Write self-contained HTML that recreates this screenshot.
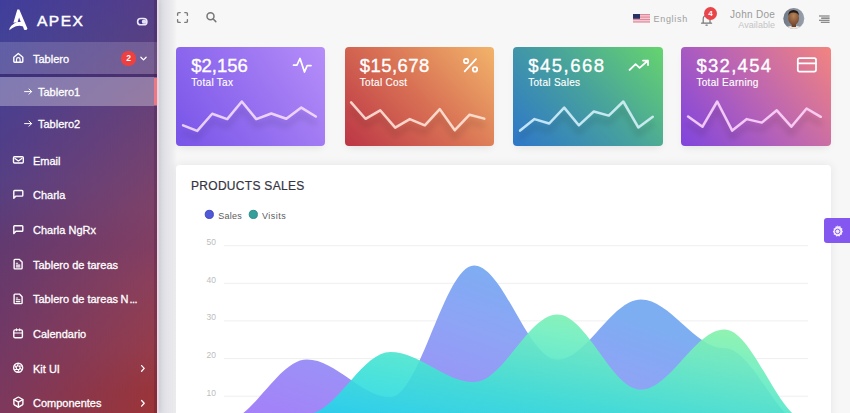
<!DOCTYPE html>
<html><head><meta charset="utf-8">
<style>
*{box-sizing:border-box;margin:0;padding:0}
html,body{width:850px;height:413px;overflow:hidden}
body{font-family:"Liberation Sans",sans-serif;background:#f7f7f7;position:relative}
.sb{position:absolute;left:0;top:0;width:157px;height:413px;overflow:hidden;
 background:linear-gradient(180deg,rgb(64,62,156) 0px,rgb(66,66,152) 35px,rgb(80,62,138) 140px,rgb(87,64,132) 180px,rgb(98,58,112) 245px,rgb(116,57,100) 350px,rgb(122,57,96) 385px,rgb(126,57,92) 413px);
 box-shadow:2px 0 6px rgba(0,0,0,.12)}
.sb:before{content:"";position:absolute;left:0;top:0;width:157px;height:413px;
 background:linear-gradient(180deg,rgb(86,62,136) 0px,rgb(88,64,130) 35px,rgb(112,66,115) 140px,rgb(126,66,104) 207px,rgb(130,62,98) 245px,rgb(140,64,90) 282px,rgb(150,60,74) 350px,rgb(154,53,58) 391px,rgb(156,52,55) 413px);
 -webkit-mask-image:linear-gradient(to right,transparent,#000);mask-image:linear-gradient(to right,transparent,#000)}
.sb .row{position:absolute;left:0;width:157px;color:#fff;font-size:11px}
.sb .txt{position:absolute;left:33px;white-space:nowrap;-webkit-text-stroke:.3px #fff;letter-spacing:0}
.sb svg{position:absolute}
.main{position:absolute;left:157px;top:0;right:0;bottom:0}
.card{position:absolute;top:46.8px;height:98.8px;border-radius:4px;color:#fff;overflow:hidden;
 box-shadow:0 4px 8px -3px rgba(0,0,0,.10)}
.card .v{position:absolute;left:15px;top:10px;font-size:18.5px;line-height:1;-webkit-text-stroke:.35px #fff}
.card .l{position:absolute;left:15px;top:31px;font-size:10px;line-height:1;letter-spacing:.3px;-webkit-text-stroke:.15px #fff}
.abs{position:absolute}
</style></head>
<body>
<div class="sb">
  <!-- logo -->
  <svg style="left:0;top:0" width="40" height="40" viewBox="0 0 40 40">
    <path d="M17.3 9.4L19.3 9.4L27.4 28.6Q27.3 30.1 25.8 30L24.1 29.7L23 26.5Q19.6 25.2 15.9 26.3Q12.3 27.6 9.2 30.3Q9 28.2 11.3 25.7Q14.3 22.6 18.3 22.1L20.7 22L19.1 17.4L17.6 22.2L13.4 22.8Z" fill="#fff"/>
  </svg>
  <div class="abs" style="left:37px;top:12px;color:#fff;font-size:15.5px;letter-spacing:1.5px;-webkit-text-stroke:.45px #fff">APEX</div>
  <svg style="left:134px;top:15px" width="16" height="13" viewBox="134 15 16 13">
    <rect x="137.6" y="18.5" width="9.3" height="6.3" rx="3.15" fill="#3f3488" stroke="#ece8fa" stroke-width="1.6"/>
    <circle cx="144" cy="21.65" r="2.2" fill="#e4def6"/>
  </svg>
  <!-- Tablero row -->
  <div class="row" style="top:42px;height:32px;background:rgba(255,255,255,.16)"></div>
  <div class="row" style="top:74px;height:3px;background:rgba(40,20,80,.35)"></div>
  <div class="row" style="top:77px;height:29px;background:rgba(255,255,255,.31)"></div>

  <svg style="left:0;top:0" width="157" height="413" viewBox="0 0 157 413" fill="none" stroke="#fff" stroke-width="1.4" stroke-linecap="round" stroke-linejoin="round">
   <path d="M13.8 57.2L18.3 53.5 22.8 57.2V61.6Q22.8 62.3 22.1 62.3H14.5Q13.8 62.3 13.8 61.6Z"/>
   <path stroke-width="1.2" d="M16.5 62.3V59.4Q16.5 57.7 18.3 57.7 20.1 57.7 20.1 59.4V62.3"/>
   <path stroke-width="1.3" d="M140.9 57.3L143.5 59.9 146.1 57.3"/>
   <path stroke-width="1" d="M24.6 91.6H31.6M29 89L31.6 91.6 29 94.2"/>
   <path stroke-width="1" d="M24.6 123.6H31.6M29 121L31.6 123.6 29 126.2"/>
   <rect x="13.5" y="156.7" width="9.8" height="6.3" rx="1"/>
   <path stroke-width="1.3" d="M15 158.4L18.4 160.9 21.8 158.4"/>
   <path d="M13.8 198.3V191.3Q13.8 190.5 14.6 190.5H22Q22.8 190.5 22.8 191.3V195.3Q22.8 196.1 22 196.1H16Z"/>
   <path d="M13.8 233.5V226.5Q13.8 225.7 14.6 225.7H22Q22.8 225.7 22.8 226.5V230.5Q22.8 231.3 22 231.3H16Z"/>
   <path d="M14.1 260.2Q14.1 259.4 14.9 259.4H19.4L22.1 262.1V268.1Q22.1 268.9 21.3 268.9H14.9Q14.1 268.9 14.1 268.1Z"/><path stroke-width="1.1" d="M16.3 263.3H17.6M16.3 265.1H19.9M16.3 266.9H19.9"/>
   <path d="M14.1 294.9Q14.1 294.1 14.9 294.1H19.4L22.1 296.8V302.8Q22.1 303.6 21.3 303.6H14.9Q14.1 303.6 14.1 302.8Z"/><path stroke-width="1.1" d="M16.3 298.0H17.6M16.3 299.8H19.9M16.3 301.6H19.9"/>
   <rect x="13.8" y="329.9" width="8.6" height="7.8" rx="1.3"/>
   <path stroke-width="1.2" d="M13.8 333H22.4M16.5 328.9V330.6M19.7 328.9V330.6"/>
   <circle cx="18.15" cy="367.7" r="4.5"/>
   <g stroke-width="1.1"><clipPath id="apc"><circle cx="18.15" cy="367.7" r="4.5"/></clipPath><path clip-path="url(#apc)" d="M19.17 365.94L21.69 370.31M17.13 365.94L22.18 365.94M16.12 367.70L18.64 363.33M17.13 369.46L14.61 365.09M19.17 369.46L14.12 369.46M20.18 367.70L17.66 372.07"/></g>
   <g transform="translate(12.4 396.1) scale(0.5)" stroke-width="2.8"><path d="M21 16V8a2 2 0 0 0-1-1.73l-7-4a2 2 0 0 0-2 0l-7 4A2 2 0 0 0 3 8v8a2 2 0 0 0 1 1.73l7 4a2 2 0 0 0 2 0l7-4A2 2 0 0 0 21 16z"/><path d="M3.27 6.96L12 12.01 20.73 6.96M12 22.08V12"/></g>
   <path stroke-width="1.3" d="M141.6 365.6L144.2 368.4 141.6 371.2"/>
   <path stroke-width="1.3" d="M141.6 400.5L144.2 403.3 141.6 406.1"/>
  </svg>
  <div class="row" style="top:53px"><span class="txt">Tablero</span></div>
  <div class="abs" style="left:121.4px;top:51.4px;width:14.4px;height:14.4px;border-radius:50%;background:#ee4040;color:#fff;font-size:8.5px;font-weight:bold;text-align:center;line-height:14.4px">2</div>
  <div class="row" style="top:86px"><span class="txt" style="left:38px">Tablero1</span></div>
  <div class="row" style="top:118px"><span class="txt" style="left:38px">Tablero2</span></div>
  <div class="row" style="top:155px"><span class="txt">Email</span></div>
  <div class="row" style="top:189px"><span class="txt">Charla</span></div>
  <div class="row" style="top:224px"><span class="txt">Charla NgRx</span></div>
  <div class="row" style="top:259px"><span class="txt">Tablero de tareas</span></div>
  <div class="row" style="top:293px"><span class="txt">Tablero de tareas<span style="margin-left:2.6px">N</span><span style="letter-spacing:-.6px;margin-left:1px">...</span></span></div>
  <div class="row" style="top:328px"><span class="txt">Calendario</span></div>
  <div class="row" style="top:363px"><span class="txt">Kit UI</span></div>
  <div class="row" style="top:397px"><span class="txt">Componentes</span></div>
</div>

<div class="abs" style="left:154px;top:0;width:3px;height:413px;background:rgba(40,10,40,.18)"></div>
<div class="abs" style="left:153.6px;top:77.6px;width:4.2px;height:27.6px;background:#eb7882"></div>
<div class="abs" style="left:157px;top:0;width:20px;height:413px;background:linear-gradient(to right,rgba(235,215,232,.9) 0,rgba(235,215,232,.9) 1.2px,rgba(60,60,110,.15) 2.6px,rgba(60,60,110,.11) 9px,rgba(60,60,110,.05) 16px,rgba(60,60,110,0) 20px)"></div>
<!-- navbar -->
<svg class="abs" style="left:176px;top:11px" width="13" height="13" viewBox="0 0 13 13" fill="none" stroke="#7a7a7a" stroke-width="1.4" stroke-linecap="round" stroke-linejoin="round"><path d="M4.2 1.6H2.8Q1.6 1.6 1.6 2.8V4.2M8.8 1.6H10.2Q11.4 1.6 11.4 2.8V4.2M11.4 8.8V10.2Q11.4 11.4 10.2 11.4H8.8M4.2 11.4H2.8Q1.6 11.4 1.6 10.2V8.8"/></svg>
<svg class="abs" style="left:204px;top:10px" width="14" height="14" viewBox="0 0 14 14" fill="none" stroke="#777" stroke-width="1.5" stroke-linecap="round"><circle cx="6.5" cy="6.3" r="3.5"/><path d="M9.2 9L11.8 11.6"/></svg>

<svg class="abs" style="left:633px;top:14px" width="17" height="9" viewBox="0 0 17 9">
 <rect width="17" height="8.6" fill="#e3889a"/>
 <rect y="1.25" width="17" height="1.2" fill="#f4d4da"/><rect y="3.7" width="17" height="1.2" fill="#f4d4da"/><rect y="6.15" width="17" height="1.2" fill="#f4d4da"/>
 <rect width="7" height="4.8" fill="#263364"/>
</svg>
<div class="abs" style="left:653.5px;top:13.8px;font-size:9px;letter-spacing:.7px;color:#a0a0a0">English</div>

<svg class="abs" style="left:700px;top:12px" width="13" height="15" viewBox="0 0 13 15" fill="none" stroke="#777" stroke-width="1.2" stroke-linecap="round" stroke-linejoin="round"><path d="M3.2 10.8V7Q3.2 3.5 6.6 3.5T10 7V10.8M1.6 11.2H11.6M6 13.2H7.2"/></svg>
<div class="abs" style="left:704px;top:7px;width:13px;height:13px;border-radius:50%;background:#e8444a;color:#fff;font-size:8px;font-weight:bold;text-align:center;line-height:13px">4</div>

<div class="abs" style="left:730px;top:8.6px;font-size:10px;letter-spacing:.3px;color:#9a9a9a">John Doe</div>
<div class="abs" style="left:738.3px;top:19.5px;font-size:9px;letter-spacing:.05px;color:#c4c4c4">Available</div>
<svg class="abs" style="left:783px;top:8px" width="22" height="22" viewBox="0 0 22 22">
 <defs><clipPath id="av"><circle cx="10.8" cy="10.5" r="10.5"/></clipPath>
 <linearGradient id="avbg" x1="0" x2="1" y1="0" y2="0"><stop offset="0" stop-color="#6e7886"/><stop offset="1" stop-color="#9aa2ad"/></linearGradient>
 <radialGradient id="face" cx="0.5" cy="0.35" r="0.6"><stop offset="0" stop-color="#b88458"/><stop offset="1" stop-color="#7a4c32"/></radialGradient></defs>
 <g clip-path="url(#av)">
 <rect width="22" height="22" fill="url(#avbg)"/>
 <ellipse cx="10.8" cy="23" rx="9.5" ry="5.5" fill="#ebe4dc"/>
 <rect x="8.6" y="15" width="4.4" height="4" fill="#6e4430"/>
 <ellipse cx="10.6" cy="10" rx="5.4" ry="7.2" fill="url(#face)"/>
 <path d="M5.2 8Q5.2 2 10.6 2T16 8Q15 4.6 10.6 4.4T5.2 8Z" fill="#261a14"/>
 </g>
</svg>
<svg class="abs" style="left:818px;top:14px" width="13" height="10" viewBox="0 0 13 10"><path d="M1 2H11.6M3.2 4.1H11.6M1 6.2H11.6M2.8 8.3H11.6" stroke="#6a6a6a" stroke-width="1.1"/></svg>

<!-- stat cards -->
<div class="card" style="left:176.3px;width:149.1px;background:linear-gradient(56deg,rgb(120,84,232),rgb(150,112,240) 50%,rgb(182,142,249))">
 <div class="v">$2,156</div><div class="l">Total Tax</div>
</div>
<div class="card" style="left:344.8px;width:149.5px;background:linear-gradient(47deg,rgb(188,54,70),rgb(216,112,84) 50%,rgb(242,180,106))">
 <div class="v" style="letter-spacing:.45px">$15,678</div><div class="l">Total Cost</div>
</div>
<div class="card" style="left:513.2px;width:149.4px;background:linear-gradient(47deg,rgb(46,118,202),rgb(70,160,158) 50%,rgb(102,212,110))">
 <div class="v" style="letter-spacing:1.5px">$45,668</div><div class="l">Total Sales</div>
</div>
<div class="card" style="left:681.4px;width:149.3px;background:linear-gradient(52deg,rgb(128,68,222),rgb(186,100,180) 50%,rgb(242,132,128))">
 <div class="v" style="letter-spacing:1.3px">$32,454</div><div class="l">Total Earning</div>
</div>

<!-- products sales card -->
<div class="abs" style="left:176px;top:165px;width:655px;height:260px;background:#fff;border-radius:4px;box-shadow:0 0 10px rgba(40,40,90,.09)"></div>
<div class="abs" style="left:191px;top:179px;font-size:12px;color:#34343e;letter-spacing:.3px;-webkit-text-stroke:.2px #34343e">PRODUCTS SALES</div>


<svg class="abs" style="left:0;top:0" width="850" height="413" viewBox="0 0 850 413">
 <defs>
  <filter id="ds" x="-10%" y="-30%" width="120%" height="180%"><feGaussianBlur in="SourceAlpha" stdDeviation="3"/><feOffset dy="7"/><feComponentTransfer><feFuncA type="linear" slope="0.25"/></feComponentTransfer><feMerge><feMergeNode/><feMergeNode in="SourceGraphic"/></feMerge></filter>
  <linearGradient id="gs" gradientUnits="userSpaceOnUse" x1="-111.2" y1="318.1" x2="-30.7" y2="87.8"><stop offset="0.000" stop-color="rgb(170,123,249)"/><stop offset="0.176" stop-color="rgb(162,132,248)"/><stop offset="0.324" stop-color="rgb(158,140,247)"/><stop offset="0.750" stop-color="rgb(142,164,245)"/><stop offset="0.934" stop-color="rgb(130,170,243)"/><stop offset="1.000" stop-color="rgb(126,174,242)"/></linearGradient>
  <linearGradient id="gv" gradientUnits="userSpaceOnUse" x1="-70.2" y1="387.7" x2="-35.7" y2="197.0"><stop offset="0.000" stop-color="rgb(10,198,242)"/><stop offset="0.299" stop-color="rgb(40,216,230)"/><stop offset="0.515" stop-color="rgb(61,225,212)"/><stop offset="0.862" stop-color="rgb(112,238,189)"/><stop offset="0.988" stop-color="rgb(127,241,172)"/><stop offset="1.000" stop-color="rgb(130,241,170)"/></linearGradient>
 </defs>
 <g stroke="#efefef" stroke-width="1">
  <path d="M224 245.7H808M224 283.3H808M224 320.9H808M224 358.6H808M224 396.2H808"/>
 </g>
 <g font-size="8.5" fill="#bdbdbd" text-anchor="end" font-family="Liberation Sans">
  <text x="216" y="245">50</text><text x="216" y="282.6">40</text><text x="216" y="320.2">30</text><text x="216" y="357.9">20</text><text x="216" y="395.5">10</text>
 </g>
 <path d="M223.4 421.6C252.6 421.6 277.7 359.6 306.9 359.6C336.1 359.6 361.2 397.2 390.4 397.2C419.6 397.2 444.7 265.5 473.9 265.5C503.1 265.5 528.2 359.6 557.4 359.6C586.6 359.6 611.7 299.4 640.9 299.4C670.1 299.4 695.2 348.3 724.4 348.3C753.6 348.3 778.7 427.3 807.9 427.3L807.9 434.8L223.4 434.8Z" fill="url(#gs)"/>
 <path d="M223.4 434.8C252.6 434.8 277.7 414.1 306.9 414.1C336.1 414.1 361.2 352.0 390.4 352.0C419.6 352.0 444.7 382.1 473.9 382.1C503.1 382.1 528.2 314.4 557.4 314.4C586.6 314.4 611.7 389.6 640.9 389.6C670.1 389.6 695.2 329.4 724.4 329.4C753.6 329.4 778.7 421.3 807.9 421.3L807.9 434.8L223.4 434.8Z" fill="url(#gv)" fill-opacity="0.9"/>
 <circle cx="209.3" cy="214.4" r="4.1" fill="#5059d8" stroke="#3e3fb6" stroke-width="0.9"/>
 <circle cx="253.3" cy="214.4" r="4.1" fill="#34a09c" stroke="#2a8683" stroke-width="0.9"/>
 <text x="218.3" y="218.5" font-size="9" letter-spacing=".25" fill="#5c5c5c" font-family="Liberation Sans">Sales</text>
 <text x="262" y="218.5" font-size="9" letter-spacing=".5" fill="#5c5c5c" font-family="Liberation Sans">Visits</text>

 <g fill="none" stroke-width="2.5" stroke-linejoin="round" stroke-linecap="round" filter="url(#ds)">
  <polyline points="183.1,125.3 197.2,130.9 212.2,113.8 227.2,119.1 241.8,101.5 256.3,119.1 271.3,113.5 286.3,118.8 301.3,107.6 315.8,116.5" stroke="rgba(255,232,255,.82)"/>
  <polyline points="351.1,102.4 365.5,118.8 380.2,110.3 395.2,127.6 409.8,119.1 424.8,125.3 439.8,109.1 454.8,130.2 469.6,114.7 484.3,118.6" stroke="rgba(255,235,225,.85)"/>
  <polyline points="520.1,130.6 534.5,119.1 549.2,123.5 564.2,107.6 578.8,125.3 593.8,111.5 608.8,115.6 623.3,101.5 638.3,127.4 652.8,116.8" stroke="rgba(220,245,255,.85)"/>
  <polyline points="688.1,116.5 702.5,126.7 717.2,101.5 732.2,130.6 746.8,119.1 761.8,122.6 776.8,110.3 791.3,126.7 806.6,108.5 820.8,116.8" stroke="rgba(255,220,255,.85)"/>
 </g>
 <g fill="none" stroke="#fff" stroke-width="1.75" stroke-linecap="round" stroke-linejoin="round">
  <path d="M293.5 65H297L300 58.5 304.5 72 307.2 65.5H311"/>
  <circle cx="466.1" cy="61" r="2.2"/><circle cx="475" cy="69.4" r="2.2"/><path d="M464.7 71.3L476 59.2"/>
  <path d="M629.5 70L635.6 64.2 639.6 67.8 648 60.5M643 60.5H648V65"/>
  <rect x="797.8" y="58.2" width="18.2" height="13.4" rx="1.8"/><path d="M797.8 63.4H816"/>
 </g>
</svg>

<!-- settings -->
<div class="abs" style="left:824.4px;top:218px;width:26px;height:25px;background:#8458f0;border-radius:3px 0 0 3px"></div>
<svg class="abs" style="left:830px;top:224px" width="15" height="14" viewBox="0 0 15 14">
 <path d="M7.4 1.2L8.6 2.4 10.3 2.1 10.8 3.8 12.4 4.5 12 6.2 13 7.6 11.9 8.9 12 10.6 10.3 11 9.5 12.5 7.9 12 6.3 12.6 5.5 11.1 3.8 10.8 3.8 9 2.8 7.6 3.9 6.2 3.6 4.5 5.2 3.9 5.8 2.2 7.4 2.5Z" fill="#f2eaff"/>
 <circle cx="7.6" cy="7.4" r="2.3" fill="none" stroke="#8a5cf0" stroke-width="1"/>
</svg>
</body></html>
